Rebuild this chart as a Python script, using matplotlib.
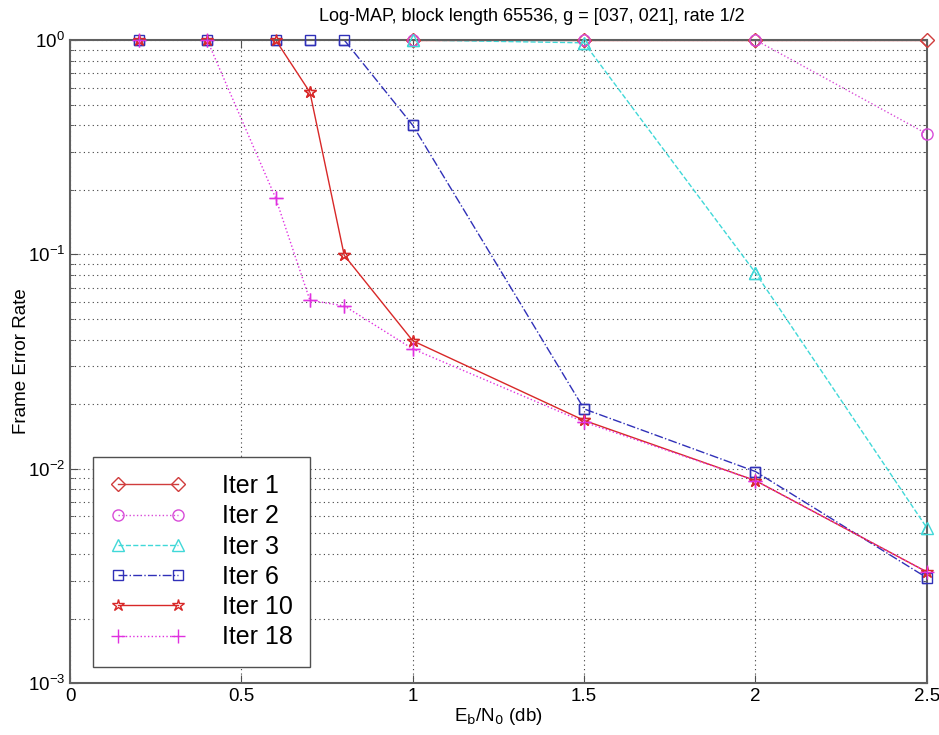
import matplotlib

matplotlib.use("Agg")
import matplotlib.pyplot as plt
from matplotlib.ticker import LogLocator, NullFormatter

plt.rcParams["font.family"] = ["Liberation Sans", "DejaVu Sans"]

# Eb/N0 points and frame error rates per iteration count
ebn0_hi = [1.0, 1.5, 2.0, 2.5]
ebn0_full = [0.2, 0.4, 0.6, 0.7, 0.8, 1.0, 1.5, 2.0, 2.5]

fer_iter1 = [1.0, 1.0, 1.0, 1.0]
fer_iter2 = [1.0, 1.0, 1.0, 0.365]
fer_iter3 = [1.0, 0.97, 0.082, 0.0053]
fer_iter6 = [1.0, 1.0, 1.0, 1.0, 1.0, 0.40, 0.019, 0.0097, 0.0031]
fer_iter10 = [1.0, 1.0, 1.0, 0.57, 0.099, 0.0395, 0.0168, 0.0088, 0.0033]
fer_iter18 = [1.0, 1.0, 0.183, 0.061, 0.0575, 0.0362, 0.0165, 0.0088, 0.0033]

labels = ["Iter 1", "Iter 2", "Iter 3", "Iter 6", "Iter 10", "Iter 18"]

fig = plt.figure(figsize=(9.39, 7.35), dpi=100)
ax = fig.add_axes([0.0746, 0.0707, 0.9124, 0.8749])

series = [
    (ebn0_hi, fer_iter1, "#d03c3c", "-", "D", 7),
    (ebn0_hi, fer_iter2, "#d84cd8", ":", "o", 8),
    (ebn0_hi, fer_iter3, "#40d8d8", "--", "^", 8),
    (ebn0_full, fer_iter6, "#3030b8", "-.", "s", 7),
    (ebn0_full, fer_iter10, "#d82828", "-", "*", 9),
    (ebn0_full, fer_iter18, "#e030e0", ":", "+", 10),
]
for (x, y, c, ls, m, ms), lab in zip(series, labels):
    # line clipped at the axes edge (spine hides it on the top), markers not
    ax.plot(x, y, color=c, linestyle=ls, linewidth=1.0, marker=m,
            markersize=ms, markerfacecolor="none", markeredgecolor=c,
            markeredgewidth=1.0, label=lab, zorder=2)
    ax.plot(x, y, linestyle="none", marker=m, markersize=ms,
            markerfacecolor="none", markeredgecolor=c, markeredgewidth=1.0,
            clip_on=False, zorder=3)

ax.set_yscale("log")
ax.set_xlim(0, 2.5)
ax.set_ylim(1e-3, 1)
ax.set_xticks([0, 0.5, 1, 1.5, 2, 2.5])
ax.set_xticklabels(["0", "0.5", "1", "1.5", "2", "2.5"])
ax.yaxis.set_minor_locator(LogLocator(base=10, subs=range(2, 10)))
ax.yaxis.set_minor_formatter(NullFormatter())

ax.grid(True, which="major", linestyle=(0, (1, 3)), color="#404040", linewidth=0.8)
ax.grid(True, which="minor", axis="y", linestyle=(0, (1, 3)), color="#404040", linewidth=0.8)
ax.tick_params(which="both", direction="in", top=True, right=True,
               labelsize=13.5, color="#505050")
ax.tick_params(which="major", length=6)
ax.tick_params(which="minor", length=3)
for sp in ax.spines.values():
    sp.set_color("#606060")
    sp.set_linewidth(1.5)
    sp.set_zorder(2.5)

ax.set_title("Log-MAP, block length 65536, g = [037, 021], rate 1/2",
             fontsize=13, pad=14, x=0.539)
ax.set_xlabel(r"E$_\mathrm{b}$/N$_0$ (db)", fontsize=13.5, labelpad=1)
ax.set_ylabel("Frame Error Rate", fontsize=13.5, labelpad=-2)

leg = ax.legend(loc="lower left", bbox_to_anchor=(0.027, 0.025), fontsize=18,
                numpoints=2, handlelength=3.0, handletextpad=1.45,
                labelspacing=0.25, borderpad=0.7, borderaxespad=0,
                fancybox=False, framealpha=1.0, edgecolor="#505050")
leg.get_frame().set_linewidth(1.0)

fig.savefig("out.png", dpi=100)
